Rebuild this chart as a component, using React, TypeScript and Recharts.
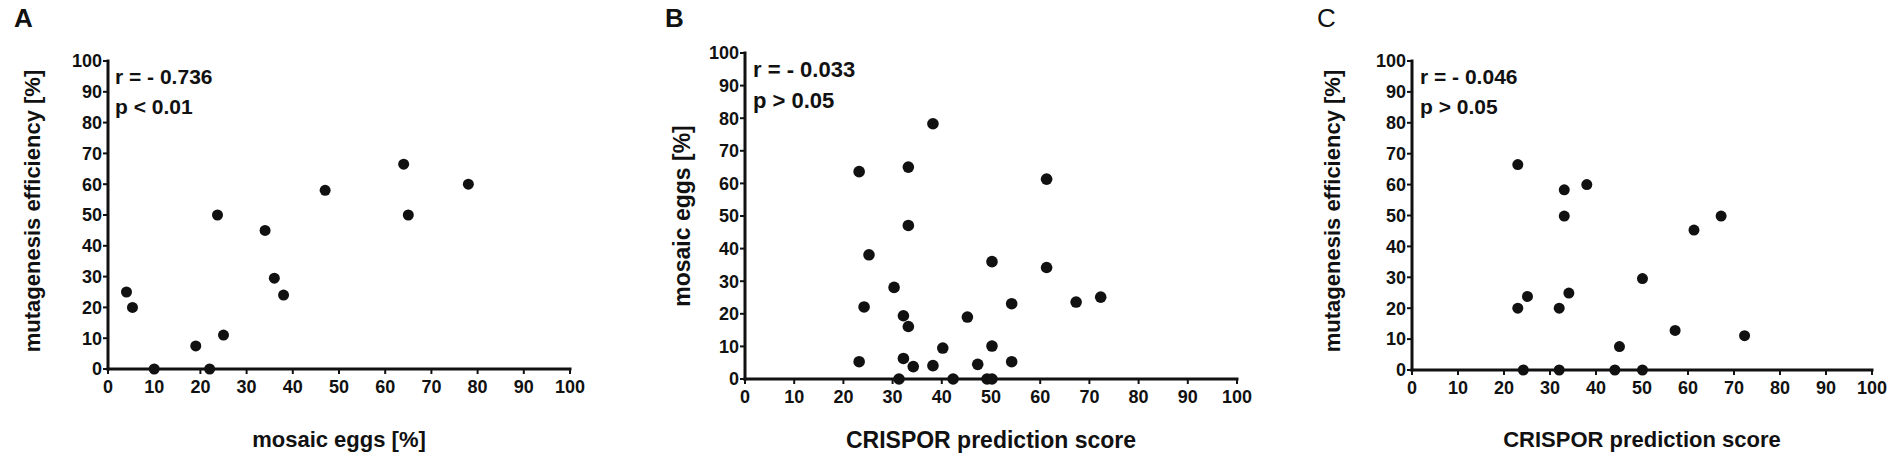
import React from "react";
import { ScatterChart, Scatter, XAxis, YAxis } from "recharts";

// panel A: mosaic eggs vs mutagenesis efficiency
const mosaicA = [4, 5.3, 10, 19, 22, 23.7, 25, 34, 36, 38, 47, 64, 65, 78];
const mutagenesisA = [25, 20, 0, 7.5, 0, 50, 11, 45, 29.5, 24, 58, 66.5, 50, 60];

// panel B: CRISPOR score vs mosaic eggs
const crisporB = [
  23.2, 23.2, 24.2, 25.2, 30.3, 31.3, 32.2, 32.2, 33.2, 33.2, 33.2, 34.2, 38.2, 38.2,
  40.2, 42.3, 45.2, 47.3, 49.2, 50.2, 50.2, 50.2, 54.2, 54.2, 61.3, 61.3, 67.3, 72.3,
];
const mosaicB = [
  63.6, 5.3, 22.1, 38.1, 28.1, 0, 19.4, 6.3, 65, 47.1, 16.1, 3.8, 78.3, 4.1,
  9.5, 0, 19, 4.5, 0, 0, 36, 10.1, 23.1, 5.3, 61.3, 34.2, 23.6, 25.1,
];

// panel C: CRISPOR score vs mutagenesis efficiency
const crisporC = [23, 23, 24.2, 25.1, 32, 32, 33.1, 33.1, 34.1, 38, 44.1, 45.1, 50.1, 50.1, 57.2, 61.3, 67.2, 72.3];
const mutagenesisC = [66.5, 20, 0, 23.8, 20, 0, 58.3, 49.8, 24.9, 60, 0, 7.6, 29.6, 0, 12.8, 45.3, 49.8, 11.1];

const axisTicks = [0, 10, 20, 30, 40, 50, 60, 70, 80, 90, 100];

const FONT = '"Liberation Sans", Arial, sans-serif';
const INK = "#111";

const toPoints = (xs: number[], ys: number[]) => xs.map((x, i) => ({ x, y: ys[i] }));

interface PanelProps {
  data: { x: number; y: number }[];
  x0: number;
  x1: number;
  top: number;
  bottom: number;
  tickSize?: number;
  dotR?: number;
}

const Dot = (r: number) => (p: any) => <circle cx={p.cx} cy={p.cy} r={r} fill={INK} />;

function Panel({ data, x0, x1, top, bottom, tickSize = 18, dotR = 5.5 }: PanelProps) {
  const yAxisW = 100;
  const xAxisH = 30;
  const right = 40;
  const width = x1 - x0 + yAxisW + right;
  const height = 472;
  const tick = { fill: INK, fontSize: tickSize, fontWeight: 700, fontFamily: FONT };
  const axisLine = { stroke: INK, strokeWidth: 3, strokeLinecap: "square" as const };
  const tickLine = { stroke: INK, strokeWidth: 2 };
  return (
    <div style={{ position: "absolute", left: x0 - yAxisW, top: 0 }}>
      <ScatterChart
        width={width}
        height={height}
        margin={{ top, right, bottom: height - bottom - xAxisH, left: 0 }}
      >
        <XAxis
          type="number"
          dataKey="x"
          domain={[0, 100]}
          ticks={axisTicks}
          interval={0}
          height={xAxisH}
          tick={tick}
          tickSize={5}
          tickMargin={6}
          axisLine={axisLine}
          tickLine={tickLine}
        />
        <YAxis
          type="number"
          dataKey="y"
          domain={[0, 100]}
          ticks={axisTicks}
          interval={0}
          width={yAxisW}
          tick={tick}
          tickSize={5}
          tickMargin={1}
          axisLine={axisLine}
          tickLine={tickLine}
        />
        <Scatter data={data} shape={Dot(dotR)} isAnimationActive={false} />
      </ScatterChart>
    </div>
  );
}

export default function App() {
  const bold = { fontFamily: FONT, fontWeight: 700, fill: INK } as const;
  return (
    <div
      style={{
        position: "absolute",
        left: 0,
        top: 0,
        width: 1900,
        height: 472,
        background: "#fff",
        overflow: "hidden",
      }}
    >
      <Panel data={toPoints(mosaicA, mutagenesisA)} x0={108} x1={570} top={61} bottom={369} />
      <Panel data={toPoints(crisporB, mosaicB)} x0={745} x1={1237} top={53} bottom={379} dotR={5.8} />
      <Panel data={toPoints(crisporC, mutagenesisC)} x0={1412} x1={1872} top={61} bottom={370} />

      <svg
        width={1900}
        height={472}
        style={{ position: "absolute", left: 0, top: 0, pointerEvents: "none" }}
      >
        {/* panel letters */}
        <text x={14} y={27} fontSize={26} {...bold}>A</text>
        <text x={665} y={27} fontSize={26} {...bold}>B</text>
        <text x={1317} y={27} fontSize={26} fontFamily={FONT} fill={INK}>C</text>

        {/* correlation notes */}
        <text x={115} y={84} fontSize={21} {...bold}>r = - 0.736</text>
        <text x={115} y={114} fontSize={21} {...bold}>p &lt; 0.01</text>
        <text x={753} y={77} fontSize={22} {...bold}>r = - 0.033</text>
        <text x={753} y={108} fontSize={22} {...bold}>p &gt; 0.05</text>
        <text x={1420} y={84} fontSize={21} {...bold}>r = - 0.046</text>
        <text x={1420} y={114} fontSize={21} {...bold}>p &gt; 0.05</text>

        {/* x titles */}
        <text x={339} y={447} fontSize={22} textAnchor="middle" {...bold}>mosaic eggs [%]</text>
        <text x={991} y={448} fontSize={23} textAnchor="middle" {...bold}>CRISPOR prediction score</text>
        <text x={1642} y={447} fontSize={22} textAnchor="middle" {...bold}>CRISPOR prediction score</text>

        {/* y titles */}
        <text transform="translate(40,211) rotate(-90)" fontSize={22} textAnchor="middle" {...bold}>
          mutagenesis efficiency [%]
        </text>
        <text transform="translate(690,216) rotate(-90)" fontSize={23} textAnchor="middle" {...bold}>
          mosaic eggs [%]
        </text>
        <text transform="translate(1340,211) rotate(-90)" fontSize={22} textAnchor="middle" {...bold}>
          mutagenesis efficiency [%]
        </text>
      </svg>
    </div>
  );
}
